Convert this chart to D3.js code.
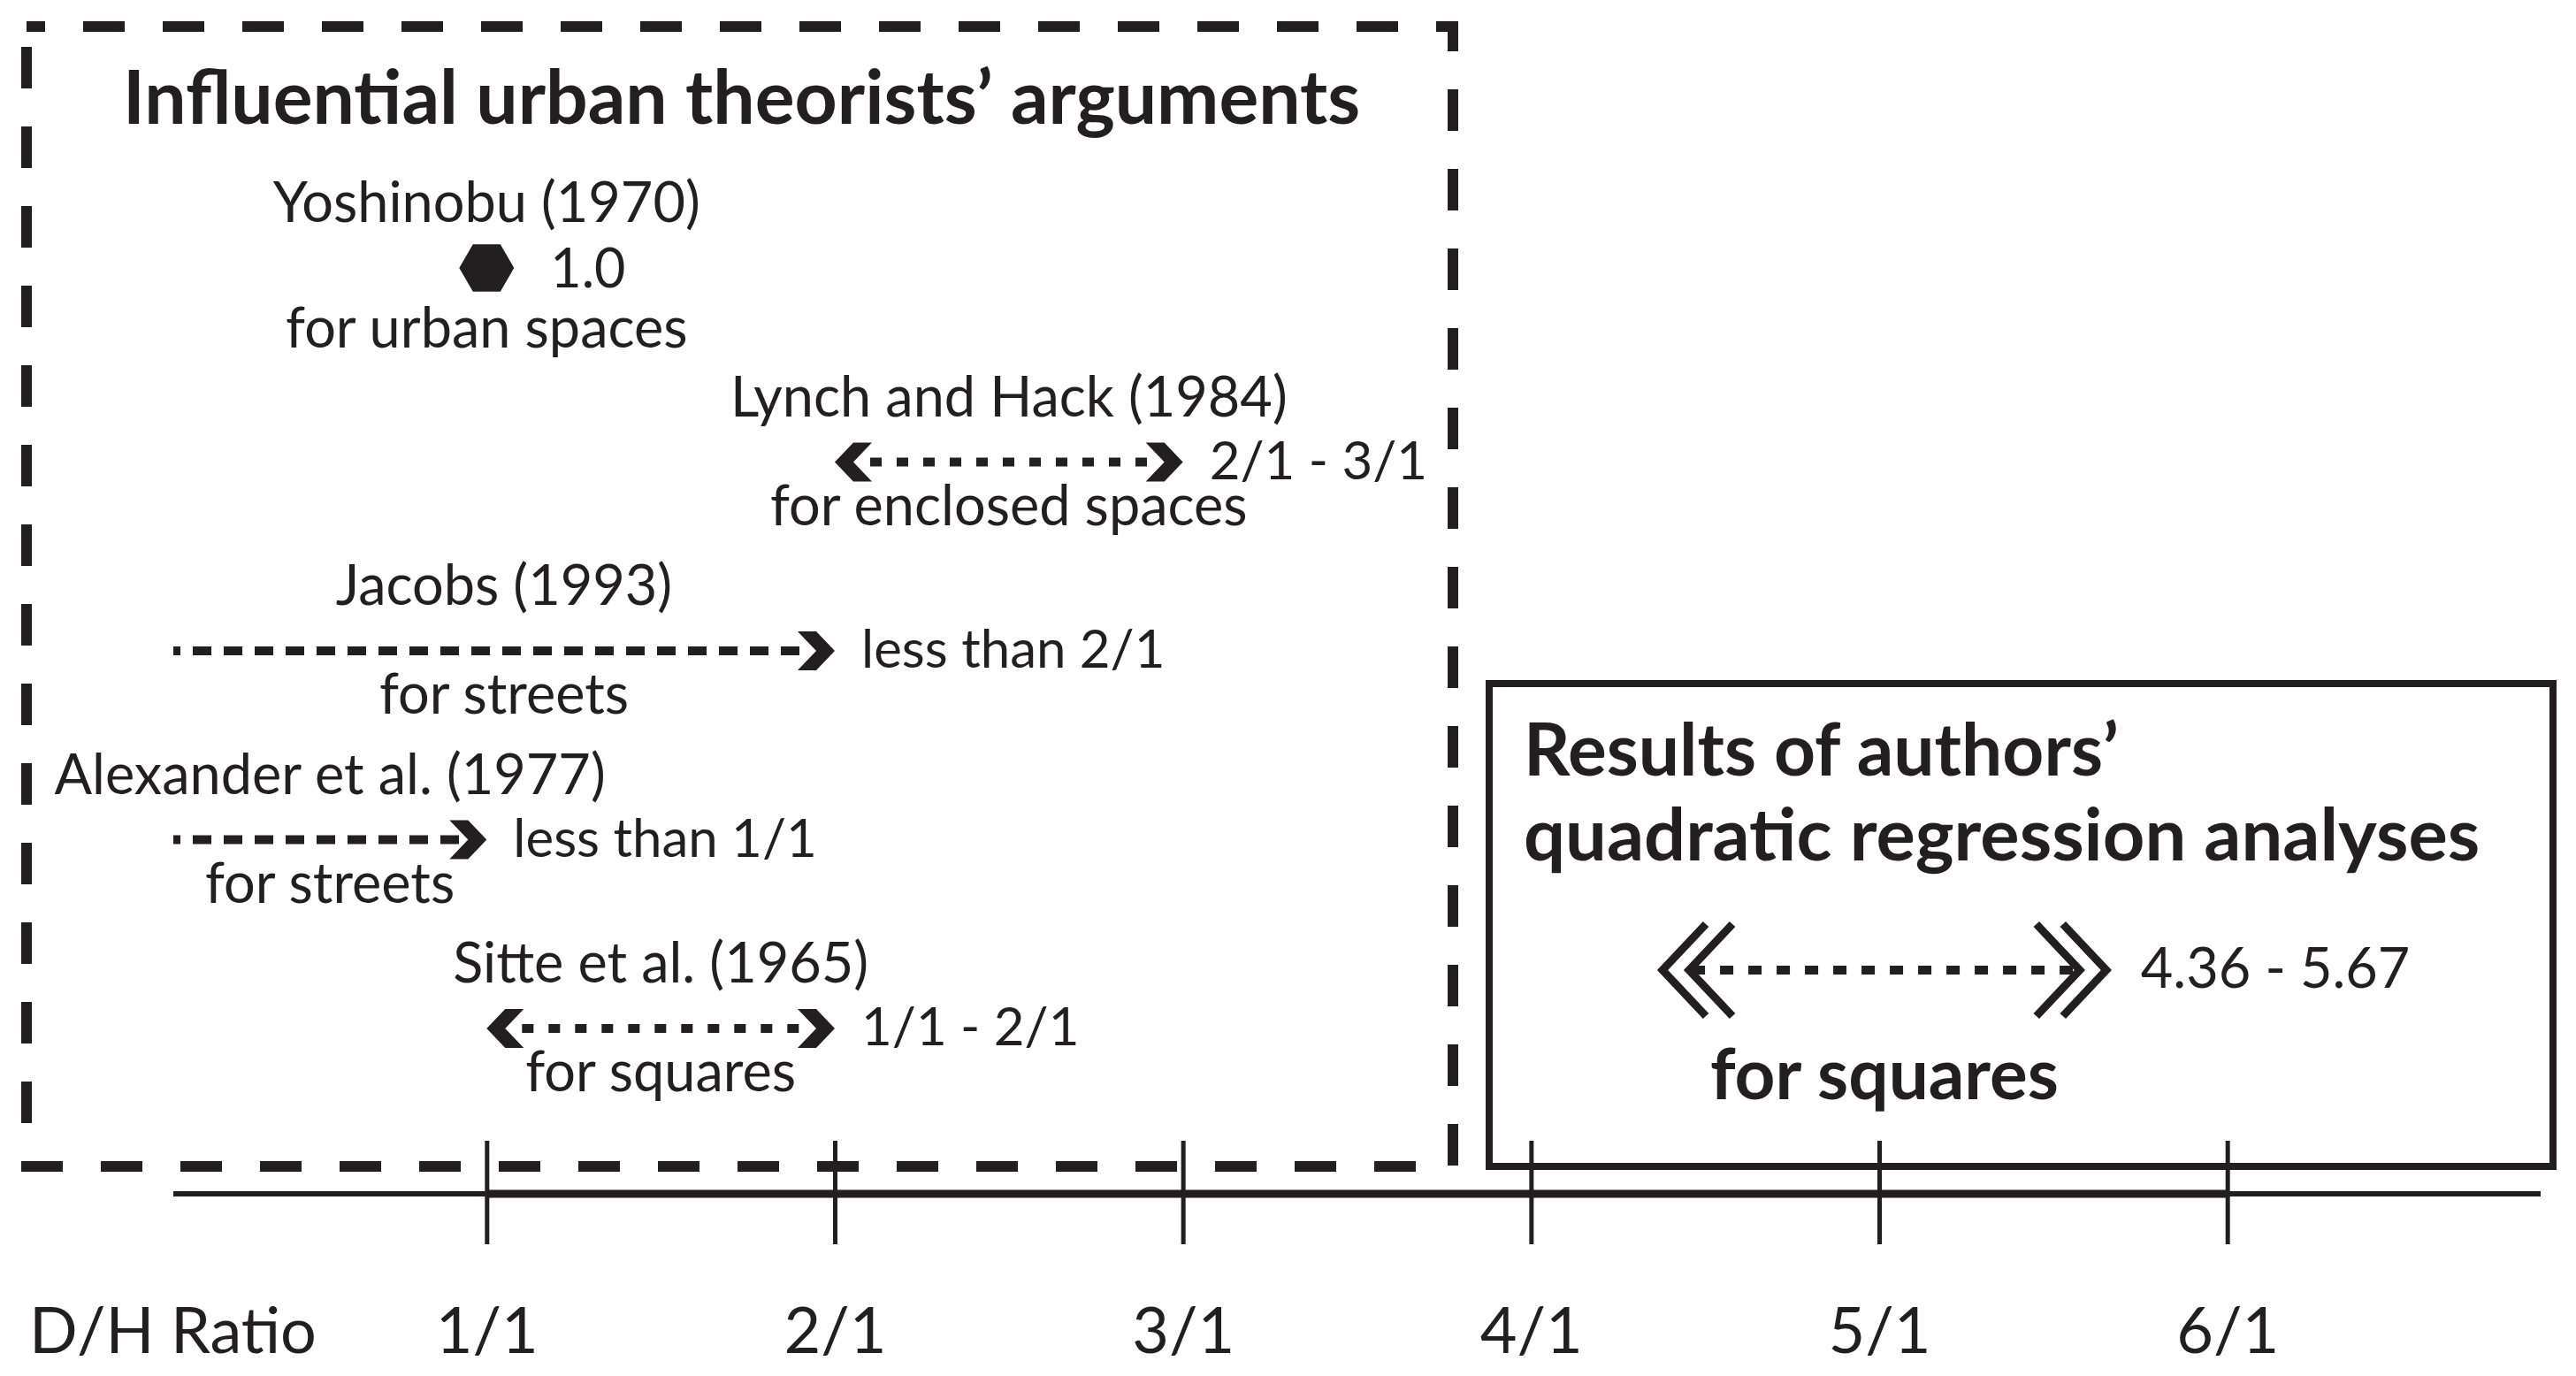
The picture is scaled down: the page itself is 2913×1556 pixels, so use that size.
<!DOCTYPE html>
<html>
<head>
<meta charset="utf-8">
<script src="https://cdnjs.cloudflare.com/ajax/libs/d3/7.8.5/d3.min.js"></script>
<style>
  html, body { margin: 0; padding: 0; background: #fff; }
  svg { display: block; }
</style>
</head>
<body>
<div id="content"></div>
<script>
// data
var theorists = ["Yoshinobu (1970)", "Lynch and Hack (1984)", "Jacobs (1993)", "Alexander et al. (1977)", "Sitte et al. (1965)"];
var spaceTypes = ["for urban spaces", "for enclosed spaces", "for streets", "for streets", "for squares"];
var rangeLow = [1.0, 2, null, null, 1];      // null = open lower end ("less than")
var rangeHigh = [1.0, 3, 2, 1, 2];
var rangeLabels = ["1.0", "2/1 - 3/1", "less than 2/1", "less than 1/1", "1/1 - 2/1"];

var resultLow = 4.36;
var resultHigh = 5.67;
var resultLabel = "4.36 - 5.67";
var resultSpace = "for squares";

var tickValues = [1, 2, 3, 4, 5, 6];
var tickLabels = ["1/1", "2/1", "3/1", "4/1", "5/1", "6/1"];
var axisDomain = [0.1, 6.9];

// SVG setup
var width = 2913, height = 1556;
var ink = "#231f20";
var font = "Lato, 'Open Sans', sans-serif";

var svg = d3.select("#content")
  .append("svg")
  .attr("width", width)
  .attr("height", height)
  .style("font-family", font);

svg.append("rect").attr("width", width).attr("height", height).attr("fill", "#fff");

var x = d3.scaleLinear().domain(axisDomain).range([196, 2873]);
var rowY = d3.scalePoint().domain(theorists).range([309, 1163]);
var axisY = 1350;

// chevron head, tip at origin pointing right
var chevron = d3.line()([[0, 0], [-21, -22], [-42, -22], [-21, 0], [-42, 22], [-21, 22]]) + "Z";

//////////////////////////////////////////////
// dashed box of theorists
svg.append("rect")
  .attr("x", 30).attr("y", 30)
  .attr("width", 1613).attr("height", 1289)
  .attr("fill", "none")
  .attr("stroke", ink)
  .attr("stroke-width", 12)
  .attr("stroke-dasharray", "47 43")
  .attr("stroke-dashoffset", 26);

svg.append("text")
  .attr("x", 139).attr("y", 140)
  .attr("font-weight", 700)
  .attr("font-size", 84)
  .attr("fill", ink)
  .text("Influential urban theorists’ arguments");

var rows = svg.selectAll(".row")
  .data(theorists)
  .join("g")
  .attr("class", "row");

rows.each(function (name, i) {
  var g = d3.select(this);
  var y = rowY(name);
  var isPoint = rangeLow[i] === rangeHigh[i];
  var x1 = rangeLow[i] === null ? x(axisDomain[0]) : x(rangeLow[i]);
  var x2 = x(rangeHigh[i]);
  var mid = (x1 + x2) / 2;

  g.append("text")
    .attr("x", mid).attr("y", y - (isPoint ? 58 : 52))
    .attr("text-anchor", "middle")
    .attr("font-size", 63)
    .attr("fill", ink)
    .text(name);

  if (isPoint) {
    // hexagon marker
    var hex = d3.range(6).map(function (k) {
      var a = k * Math.PI / 3;
      return [x2 + 31 * Math.cos(a), y - 6 + 31 * Math.sin(a)];
    });
    g.append("path")
      .attr("d", d3.line()(hex) + "Z")
      .attr("fill", ink);
    g.append("text")
      .attr("x", x2 + 72).attr("y", y + 16)
      .attr("font-size", 61)
      .attr("fill", ink)
      .text(rangeLabels[i]);
  } else {
    var open = rangeLow[i] === null;
    g.append("line")
      .attr("x1", open ? x1 : x1 + 40).attr("x2", x2 - 30)
      .attr("y1", y).attr("y2", y)
      .attr("stroke", ink)
      .attr("stroke-width", 10)
      .attr("stroke-dasharray", open ? "21 14" : "13 17")
      .attr("stroke-dashoffset", open ? 13 : 0);
    g.append("path")
      .attr("d", chevron)
      .attr("transform", "translate(" + x2 + "," + y + ")")
      .attr("fill", ink);
    if (!open) {
      g.append("path")
        .attr("d", chevron)
        .attr("transform", "translate(" + x1 + "," + y + ") scale(-1,1)")
        .attr("fill", ink);
    }
    g.append("text")
      .attr("x", x2 + 30).attr("y", y + 19)
      .attr("font-size", 60)
      .attr("fill", ink)
      .text(rangeLabels[i]);
  }

  g.append("text")
    .attr("x", mid).attr("y", y + (isPoint ? 84 : 71))
    .attr("text-anchor", "middle")
    .attr("font-size", 63)
    .attr("fill", ink)
    .text(spaceTypes[i]);
});

//////////////////////////////////////////////
// solid box with the authors' result
svg.append("rect")
  .attr("x", 1684).attr("y", 773)
  .attr("width", 1203).attr("height", 546)
  .attr("fill", "none")
  .attr("stroke", ink)
  .attr("stroke-width", 8);

svg.append("text")
  .attr("x", 1723).attr("y", 877)
  .attr("font-weight", 700)
  .attr("font-size", 82)
  .attr("fill", ink)
  .text("Results of authors’");

svg.append("text")
  .attr("x", 1723).attr("y", 973)
  .attr("font-weight", 700)
  .attr("font-size", 83)
  .attr("fill", ink)
  .text("quadratic regression analyses");

var resY = 1097;
var r1 = x(resultLow), r2 = x(resultHigh);

svg.append("line")
  .attr("x1", r1 + 40).attr("x2", r2 - 40)
  .attr("y1", resY).attr("y2", resY)
  .attr("stroke", ink)
  .attr("stroke-width", 10)
  .attr("stroke-dasharray", "15 17");

// double chevrons at both ends
[[r1, 1], [r2, -1]].forEach(function (end) {
  [0, 30].forEach(function (off) {
    var tx = end[0] + end[1] * (7 + off);
    svg.append("path")
      .attr("d", d3.line()([[tx + end[1] * 49, resY - 52], [tx, resY], [tx + end[1] * 49, resY + 52]]))
      .attr("fill", "none")
      .attr("stroke", ink)
      .attr("stroke-width", 9)
      .attr("stroke-linejoin", "miter");
  });
});

svg.append("text")
  .attr("x", r2 + 32).attr("y", resY + 20)
  .attr("font-size", 63)
  .attr("fill", ink)
  .text(resultLabel);

svg.append("text")
  .attr("x", (r1 + r2) / 2).attr("y", 1243)
  .attr("text-anchor", "middle")
  .attr("font-weight", 700)
  .attr("font-size", 80)
  .attr("fill", ink)
  .text(resultSpace);

//////////////////////////////////////////////
// D/H ratio axis
var axisG = svg.append("g")
  .attr("transform", "translate(0," + axisY + ")");

axisG.append("line")
  .attr("x1", x(axisDomain[0])).attr("x2", x(axisDomain[1]))
  .attr("stroke", ink).attr("stroke-width", 6);

axisG.append("line")
  .attr("x1", x(tickValues[0])).attr("x2", x(tickValues[tickValues.length - 1]))
  .attr("stroke", ink).attr("stroke-width", 9);

var x_axis = d3.axisBottom(x)
  .tickValues(tickValues)
  .tickFormat(function (d, i) { return tickLabels[i]; })
  .tickSizeOuter(0)
  .tickSize(57);

axisG.append("g").call(x_axis)
  .call(function (g) { g.select(".domain").remove(); })
  .attr("font-family", font)
  .attr("font-size", 72);

axisG.selectAll(".tick line")
  .attr("y1", -60).attr("y2", 57)
  .attr("stroke", ink)
  .attr("stroke-width", 5);

axisG.selectAll(".tick text")
  .attr("y", 180).attr("dy", 0)
  .attr("fill", ink);

axisG.append("text")
  .attr("x", 33).attr("y", 180)
  .attr("font-size", 72)
  .attr("fill", ink)
  .text("D/H Ratio");
</script>
</body>
</html>
